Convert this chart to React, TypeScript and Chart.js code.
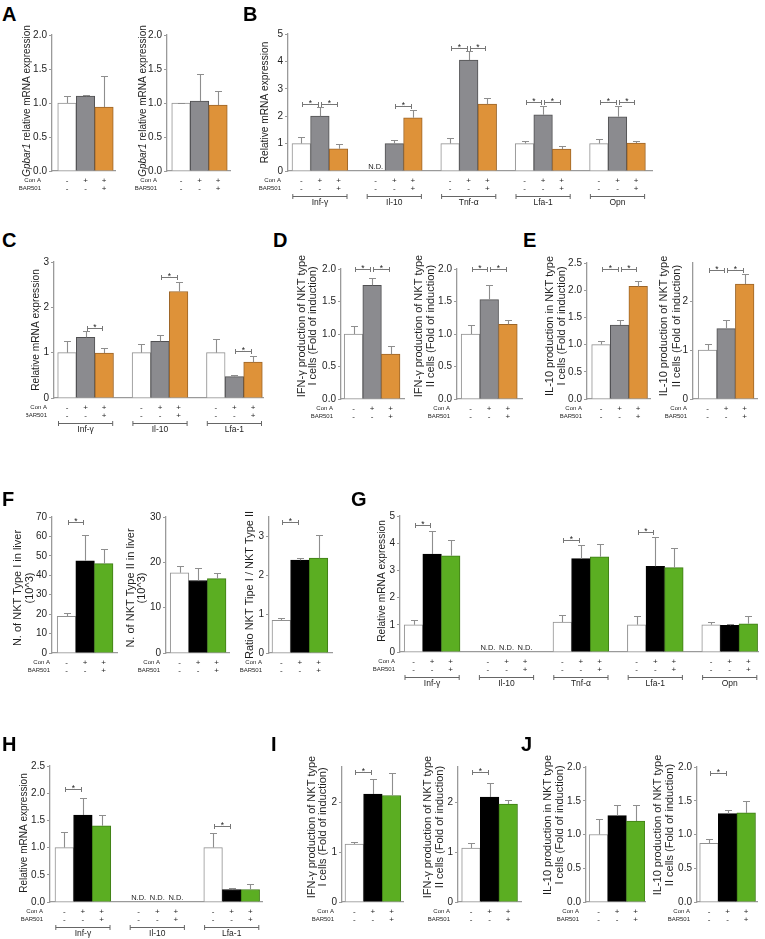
import React, { useEffect, useRef } from "react";
import { Chart, registerables } from "chart.js";

Chart.register(...registerables);

const FONT = "'Liberation Sans', Arial, Helvetica, sans-serif";

// ---------- shared labels ----------
const SIGNS_CON_A = ["-", "+", "+"];
const SIGNS_BAR501 = ["-", "-", "+"];
const ROW_LABELS = ["Con A", "BAR501"];

// ---------- Panel A ----------
const aLeftMeans = [1.0, 1.1, 0.94];
const aLeftSem = [0.1, 0.02, 0.45];
const aRightMeans = [1.0, 1.03, 0.97];
const aRightSem = [0.005, 0.39, 0.21];

// ---------- Panel B ----------
const bGenes = ["Inf-γ", "Il-10", "Tnf-α", "Lfa-1", "Opn"];
const bControl = [1.0, null, 1.0, 1.0, 1.0];
const bConA = [2.0, 1.0, 4.05, 2.05, 1.98];
const bConABar = [0.81, 1.94, 2.44, 0.8, 1.02];
const bControlSem = [0.24, null, 0.2, 0.1, 0.16];
const bConASem = [0.33, 0.13, 0.32, 0.33, 0.4];
const bConABarSem = [0.17, 0.28, 0.22, 0.13, 0.08];
const bStars = [
  { g: 0, a: 0, b: 1, y: 2.44 }, { g: 0, a: 1, b: 2, y: 2.44 },
  { g: 1, a: 1, b: 2, y: 2.37 },
  { g: 2, a: 0, b: 1, y: 4.49 }, { g: 2, a: 1, b: 2, y: 4.49 },
  { g: 3, a: 0, b: 1, y: 2.51 }, { g: 3, a: 1, b: 2, y: 2.51 },
  { g: 4, a: 0, b: 1, y: 2.51 }, { g: 4, a: 1, b: 2, y: 2.51 },
];

// ---------- Panel C ----------
const cGenes = ["Inf-γ", "Il-10", "Lfa-1"];
const cControl = [1.0, 1.0, 1.0];
const cConA = [1.34, 1.25, 0.47];
const cConABar = [0.99, 2.35, 0.79];
const cControlSem = [0.25, 0.2, 0.3];
const cConASem = [0.13, 0.13, 0.04];
const cConABarSem = [0.11, 0.2, 0.13];
const cStars = [
  { g: 0, a: 1, b: 2, y: 1.54 },
  { g: 1, a: 1, b: 2, y: 2.67 },
  { g: 2, a: 1, b: 2, y: 1.04 },
];

// ---------- Panel D ----------
const dTypeIMeans = [1.0, 1.75, 0.69];
const dTypeISem = [0.13, 0.11, 0.13];
const dTypeIIMeans = [1.0, 1.53, 1.15];
const dTypeIISem = [0.14, 0.22, 0.07];
const dStars = [{ g: 0, a: 0, b: 1, y: 2.0 }, { g: 0, a: 1, b: 2, y: 2.0 }];

// ---------- Panel E ----------
const eTypeIMeans = [1.0, 1.36, 2.07];
const eTypeISem = [0.07, 0.1, 0.1];
const eTypeIIMeans = [1.0, 1.44, 2.35];
const eTypeIISem = [0.12, 0.17, 0.21];
const eTypeIStars = [{ g: 0, a: 0, b: 1, y: 2.39 }, { g: 0, a: 1, b: 2, y: 2.39 }];
const eTypeIIStars = [{ g: 0, a: 0, b: 1, y: 2.64 }, { g: 0, a: 1, b: 2, y: 2.64 }];

// ---------- Panel F ----------
const fTypeIMeans = [18.9, 47.5, 46.0];
const fTypeISem = [1.9, 13.2, 7.7];
const fTypeIIMeans = [17.7, 16.0, 16.4];
const fTypeIISem = [1.5, 2.8, 1.3];
const fRatioMeans = [0.84, 2.39, 2.44];
const fRatioSem = [0.07, 0.05, 0.59];
const fTypeIStars = [{ g: 0, a: 0, b: 1, y: 67.4 }];
const fRatioStars = [{ g: 0, a: 0, b: 1, y: 3.36 }];

// ---------- Panel G ----------
const gGenes = ["Inf-γ", "Il-10", "Tnf-α", "Lfa-1", "Opn"];
const gControl = [1.0, null, 1.1, 1.0, 1.0];
const gConA = [3.6, null, 3.43, 3.15, 0.98];
const gConABar = [3.54, null, 3.5, 3.1, 1.04];
const gControlSem = [0.19, null, 0.27, 0.32, 0.12];
const gConASem = [0.86, null, 0.5, 1.09, 0.06];
const gConABarSem = [0.59, null, 0.48, 0.71, 0.27];
const gStars = [
  { g: 0, a: 0, b: 1, y: 4.66 },
  { g: 2, a: 0, b: 1, y: 4.1 },
  { g: 3, a: 0, b: 1, y: 4.4 },
];

// ---------- Panel H ----------
const hGenes = ["Inf-γ", "Il-10", "Lfa-1"];
const hControl = [1.0, null, 1.0];
const hConA = [1.6, null, 0.23];
const hConABar = [1.4, null, 0.23];
const hControlSem = [0.28, null, 0.26];
const hConASem = [0.32, null, 0.03];
const hConABarSem = [0.2, null, 0.1];
const hStars = [{ g: 0, a: 0, b: 1, y: 2.07 }, { g: 2, a: 0, b: 1, y: 1.39 }];

// ---------- Panel I ----------
const iTypeIMeans = [1.16, 2.16, 2.13];
const iTypeISem = [0.04, 0.3, 0.45];
const iTypeIIMeans = [1.08, 2.1, 1.96];
const iTypeIISem = [0.1, 0.28, 0.09];
const iStars = [{ g: 0, a: 0, b: 1, y: 2.61 }];

// ---------- Panel J ----------
const jTypeIMeans = [1.0, 1.28, 1.2];
const jTypeISem = [0.23, 0.15, 0.24];
const jTypeIIMeans = [0.87, 1.31, 1.32];
const jTypeIISem = [0.07, 0.05, 0.17];
const jTypeIIStars = [{ g: 0, a: 0, b: 1, y: 1.91 }];

// ---------- styles ----------
const PALETTES: Record<string, { fill: string[]; line: string[] }> = {
  orange: { fill: ["#ffffff", "#8b8b8f", "#de9239"], line: ["#909090", "#505052", "#9c6528"] },
  green: { fill: ["#ffffff", "#000000", "#5bae22"], line: ["#909090", "#000000", "#3f7d16"] },
};
const AXIS = "#9a9a9a";
const ERR = "#8e8e8e";
const TEXT = "#1e1e1e";

type Bracket = { g: number; a: number; b: number; y: number };
type Part = { t: string; it?: boolean };
type TitleLine = { x: number; parts: Part[] };
type Spec = {
  key: string;
  series: (number | null)[][];
  sems: (number | null)[][];
  groups: string[] | null;
  palette: string;
  yMax: number;
  yStep: number;
  dec: number;
  bounds: boolean;
  stars: Bracket[];
  titles: TitleLine[];
  titleSize: number;
  titleCy?: number;
  ax: number;
  ax1: number;
  yt: number;
  yb: number;
  c0: number;
  slot: number;
  labelRight: number;
};

const single = (v: number[]) => v.map((x) => [x]);
const tl = (x: number, t: string): TitleLine => ({ x, parts: [{ t }] });

const SPECS: Spec[] = [
  {
    key: "A1", series: single(aLeftMeans), sems: single(aLeftSem), groups: null, palette: "orange",
    yMax: 2, yStep: 0.5, dec: 1, bounds: true, stars: [], titleSize: 10,
    titles: [{ x: 27, parts: [{ t: "Gpbar1", it: true }, { t: " relative mRNA expression" }] }], titleCy: 101,
    ax: 52, ax1: 115, yt: 35, yb: 171, c0: 67, slot: 18.5, labelRight: 41,
  },
  {
    key: "A2", series: single(aRightMeans), sems: single(aRightSem), groups: null, palette: "orange",
    yMax: 2, yStep: 0.5, dec: 1, bounds: true, stars: [], titleSize: 10,
    titles: [{ x: 143, parts: [{ t: "Gpbar1", it: true }, { t: " relative mRNA expression" }] }], titleCy: 101,
    ax: 167, ax1: 230, yt: 35, yb: 171, c0: 181, slot: 18.5, labelRight: 157,
  },
  {
    key: "B", series: [bControl, bConA, bConABar], sems: [bControlSem, bConASem, bConABarSem], groups: bGenes,
    palette: "orange", yMax: 5, yStep: 1, dec: 0, bounds: true, stars: bStars, titleSize: 10.2,
    titles: [tl(265, "Relative mRNA expression")],
    ax: 288, ax1: 652, yt: 34, yb: 171, c0: 301.3, slot: 18.6, labelRight: 281,
  },
  {
    key: "C", series: [cControl, cConA, cConABar], sems: [cControlSem, cConASem, cConABarSem], groups: cGenes,
    palette: "orange", yMax: 3, yStep: 1, dec: 0, bounds: true, stars: cStars, titleSize: 10.2,
    titles: [tl(36, "Relative mRNA expression")],
    ax: 54, ax1: 263, yt: 262, yb: 398, c0: 67, slot: 18.6, labelRight: 47,
  },
  {
    key: "D1", series: single(dTypeIMeans), sems: single(dTypeISem), groups: null, palette: "orange",
    yMax: 2, yStep: 0.5, dec: 1, bounds: true, stars: dStars, titleSize: 11,
    titles: [tl(302, "IFN-γ production of NKT type"), tl(313, "I cells (Fold of induction)")], titleCy: 326,
    ax: 341, ax1: 404, yt: 269, yb: 399, c0: 353.5, slot: 18.6, labelRight: 333,
  },
  {
    key: "D2", series: single(dTypeIIMeans), sems: single(dTypeIISem), groups: null, palette: "orange",
    yMax: 2, yStep: 0.5, dec: 1, bounds: true, stars: dStars, titleSize: 11,
    titles: [tl(419, "IFN-γ production of NKT type"), tl(431, "II cells (Fold of induction)")], titleCy: 326,
    ax: 457, ax1: 522, yt: 269, yb: 399, c0: 470.5, slot: 18.7, labelRight: 450,
  },
  {
    key: "E1", series: single(eTypeIMeans), sems: single(eTypeISem), groups: null, palette: "orange",
    yMax: 2.5, yStep: 0.5, dec: 1, bounds: true, stars: eTypeIStars, titleSize: 11,
    titles: [tl(550, "IL-10 production in NKT type"), tl(562, "I cells (Fold of induction)")], titleCy: 326,
    ax: 587, ax1: 650, yt: 263, yb: 399, c0: 601, slot: 18.6, labelRight: 582,
  },
  {
    key: "E2", series: single(eTypeIIMeans), sems: single(eTypeIISem), groups: null, palette: "orange",
    yMax: 2.78, yStep: 1, dec: 0, bounds: false, stars: eTypeIIStars, titleSize: 11,
    titles: [tl(664, "IL-10 production of NKT type"), tl(677, "II cells (Fold of induction)")], titleCy: 326,
    ax: 693, ax1: 757, yt: 263, yb: 399, c0: 707.5, slot: 18.6, labelRight: 687,
  },
  {
    key: "F1", series: single(fTypeIMeans), sems: single(fTypeISem), groups: null, palette: "green",
    yMax: 70, yStep: 10, dec: 0, bounds: true, stars: fTypeIStars, titleSize: 11,
    titles: [tl(18, "N. of NKT Type I in liver"), tl(30, "(10^3)")], titleCy: 588,
    ax: 52, ax1: 117, yt: 517, yb: 653, c0: 66.5, slot: 18.6, labelRight: 50,
  },
  {
    key: "F2", series: single(fTypeIIMeans), sems: single(fTypeIISem), groups: null, palette: "green",
    yMax: 30, yStep: 10, dec: 0, bounds: true, stars: [], titleSize: 11,
    titles: [tl(131, "N. of NKT Type II in liver"), tl(142, "(10^3)")], titleCy: 588,
    ax: 166, ax1: 229, yt: 517, yb: 653, c0: 179.5, slot: 18.6, labelRight: 160,
  },
  {
    key: "F3", series: single(fRatioMeans), sems: single(fRatioSem), groups: null, palette: "green",
    yMax: 3.5, yStep: 1, dec: 0, bounds: false, stars: fRatioStars, titleSize: 11,
    titles: [tl(250, "Ratio NKT Tipe I / NKT Type II")], titleCy: 585,
    ax: 269, ax1: 332, yt: 517, yb: 653, c0: 281.3, slot: 18.6, labelRight: 262,
  },
  {
    key: "G", series: [gControl, gConA, gConABar], sems: [gControlSem, gConASem, gConABarSem], groups: gGenes,
    palette: "green", yMax: 5, yStep: 1, dec: 0, bounds: true, stars: gStars, titleSize: 10.2,
    titles: [tl(382, "Relative mRNA expression")], titleCy: 581,
    ax: 400, ax1: 758, yt: 516, yb: 652, c0: 413.5, slot: 18.6, labelRight: 395,
  },
  {
    key: "H", series: [hControl, hConA, hConABar], sems: [hControlSem, hConASem, hConABarSem], groups: hGenes,
    palette: "green", yMax: 2.5, yStep: 0.5, dec: 1, bounds: true, stars: hStars, titleSize: 10,
    titles: [tl(24, "Relative mRNA expression")], titleCy: 833,
    ax: 50, ax1: 262, yt: 766, yb: 902, c0: 64.3, slot: 18.6, labelRight: 43,
  },
  {
    key: "I1", series: single(iTypeIMeans), sems: single(iTypeISem), groups: null, palette: "green",
    yMax: 2.7, yStep: 1, dec: 0, bounds: false, stars: iStars, titleSize: 11,
    titles: [tl(312, "IFN-γ production of NKT type"), tl(323, "I cells (Fold of induction)")], titleCy: 827,
    ax: 342, ax1: 403, yt: 767, yb: 902, c0: 354.3, slot: 18.6, labelRight: 334,
  },
  {
    key: "I2", series: single(iTypeIIMeans), sems: single(iTypeIISem), groups: null, palette: "green",
    yMax: 2.7, yStep: 1, dec: 0, bounds: false, stars: iStars, titleSize: 11,
    titles: [tl(428, "IFN-γ production of NKT type"), tl(440, "II cells (Fold of induction)")], titleCy: 827,
    ax: 458, ax1: 521, yt: 767, yb: 902, c0: 471, slot: 18.6, labelRight: 450,
  },
  {
    key: "J1", series: single(jTypeIMeans), sems: single(jTypeISem), groups: null, palette: "green",
    yMax: 2, yStep: 0.5, dec: 1, bounds: true, stars: [], titleSize: 11,
    titles: [tl(548, "IL-10 production in NKT type"), tl(560, "I cells (Fold of induction)")], titleCy: 825,
    ax: 586, ax1: 645, yt: 767, yb: 902, c0: 598.5, slot: 18.6, labelRight: 579,
  },
  {
    key: "J2", series: single(jTypeIIMeans), sems: single(jTypeIISem), groups: null, palette: "green",
    yMax: 2, yStep: 0.5, dec: 1, bounds: true, stars: jTypeIIStars, titleSize: 11,
    titles: [tl(658, "IL-10 production of NKT type"), tl(670, "II cells (Fold of induction)")], titleCy: 825,
    ax: 697, ax1: 757, yt: 767, yb: 902, c0: 709, slot: 18.6, labelRight: 690,
  },
];

const LETTERS = [
  { t: "A", x: 3, y: 7 }, { t: "B", x: 244, y: 7 },
  { t: "C", x: 3, y: 233 }, { t: "D", x: 274, y: 233 }, { t: "E", x: 524, y: 233 },
  { t: "F", x: 3, y: 492 }, { t: "G", x: 352, y: 492 },
  { t: "H", x: 3, y: 737 }, { t: "I", x: 272, y: 737 }, { t: "J", x: 522, y: 737 },
];

function boxOf(spec: Spec) {
  const left = Math.floor(Math.min(...spec.titles.map((t) => t.x)) - 10);
  const top = Math.floor(spec.yt - 16);
  const right = Math.ceil(spec.ax1 + 4);
  const bottom = Math.ceil(spec.yb + 40);
  return { left, top, width: right - left, height: bottom - top, right, bottom };
}

function makeDecor(spec: Spec, left: number, top: number) {
  return {
    id: "decor" + spec.key,
    afterDatasetsDraw(chart: any) {
      const ctx: CanvasRenderingContext2D = chart.ctx;
      const xs = chart.scales.x;
      const ys = chart.scales.y;
      const nG = spec.series[0].length;
      const cx = (g: number, k: number) => xs.getPixelForValue(g * 4 + k);
      const y0 = ys.getPixelForValue(0);
      ctx.save();

      // error bars
      ctx.strokeStyle = ERR;
      ctx.lineWidth = 1.1;
      spec.series.forEach((ser, k) =>
        ser.forEach((v, g) => {
          const s = spec.sems[k][g];
          if (v == null || s == null) return;
          const x = Math.round(cx(g, k)) + 0.5;
          const ya = ys.getPixelForValue(v);
          const yTop = Math.round(ys.getPixelForValue(v + s)) + 0.5;
          ctx.beginPath();
          ctx.moveTo(x, ya);
          ctx.lineTo(x, yTop);
          ctx.moveTo(x - 3.5, yTop);
          ctx.lineTo(x + 3.5, yTop);
          ctx.stroke();
        })
      );

      // N.D.
      ctx.fillStyle = TEXT;
      ctx.font = `7.5px ${FONT}`;
      ctx.textAlign = "center";
      ctx.textBaseline = "alphabetic";
      spec.series.forEach((ser, k) =>
        ser.forEach((v, g) => {
          if (v == null) ctx.fillText("N.D.", cx(g, k), y0 - 2);
        })
      );

      // significance brackets
      ctx.strokeStyle = "#777";
      ctx.lineWidth = 1;
      spec.stars.forEach((b) => {
        const xa = Math.round(cx(b.g, b.a)) + 1.5;
        const xb = Math.round(cx(b.g, b.b)) - 1.5;
        const y = Math.round(ys.getPixelForValue(b.y)) + 0.5;
        ctx.beginPath();
        ctx.moveTo(xa, y);
        ctx.lineTo(xb, y);
        ctx.moveTo(xa, y - 2.5);
        ctx.lineTo(xa, y + 2.5);
        ctx.moveTo(xb, y - 2.5);
        ctx.lineTo(xb, y + 2.5);
        ctx.stroke();
        ctx.font = `8.5px ${FONT}`;
        ctx.fillStyle = TEXT;
        ctx.textAlign = "center";
        ctx.textBaseline = "alphabetic";
        ctx.fillText("*", (xa + xb) / 2, y + 1.5);
      });

      // Con A / BAR501 rows
      const r1 = y0 + 9.5;
      const r2 = y0 + 17.5;
      ctx.fillStyle = TEXT;
      ctx.textBaseline = "middle";
      ctx.textAlign = "right";
      ctx.font = `6px ${FONT}`;
      ctx.fillText(ROW_LABELS[0], spec.labelRight - left, r1);
      ctx.fillText(ROW_LABELS[1], spec.labelRight - left, r2);
      ctx.textAlign = "center";
      ctx.font = `8px ${FONT}`;
      for (let g = 0; g < nG; g++) {
        for (let k = 0; k < 3; k++) {
          const x = cx(g, k);
          ctx.fillText(SIGNS_CON_A[k], x, r1);
          ctx.fillText(SIGNS_BAR501[k], x, r2);
        }
      }

      // gene group brackets
      if (spec.groups) {
        const yb = Math.round(y0 + 25) + 0.5;
        ctx.strokeStyle = "#666";
        ctx.lineWidth = 1;
        spec.groups.forEach((name, g) => {
          const xa = cx(g, 0) - 8.5;
          const xb = cx(g, 2) + 8.5;
          ctx.beginPath();
          ctx.moveTo(xa, yb);
          ctx.lineTo(xb, yb);
          ctx.moveTo(xa, yb - 2.5);
          ctx.lineTo(xa, yb + 2.5);
          ctx.moveTo(xb, yb - 2.5);
          ctx.lineTo(xb, yb + 2.5);
          ctx.stroke();
          ctx.font = `8.5px ${FONT}`;
          ctx.fillStyle = TEXT;
          ctx.textAlign = "center";
          ctx.textBaseline = "middle";
          ctx.fillText(name, (xa + xb) / 2, y0 + 31.5);
        });
      }

      // y-axis titles (rotated)
      const cy = (spec.titleCy ?? (spec.yt + spec.yb) / 2) - top;
      spec.titles.forEach((line) => {
        ctx.save();
        ctx.translate(line.x - left, cy);
        ctx.rotate(-Math.PI / 2);
        ctx.textBaseline = "middle";
        ctx.textAlign = "left";
        ctx.fillStyle = TEXT;
        const fontOf = (p: Part) => `${p.it ? "italic " : ""}${spec.titleSize}px ${FONT}`;
        let total = 0;
        line.parts.forEach((p) => {
          ctx.font = fontOf(p);
          total += ctx.measureText(p.t).width;
        });
        let pos = -total / 2;
        line.parts.forEach((p) => {
          ctx.font = fontOf(p);
          ctx.fillText(p.t, pos, 0);
          pos += ctx.measureText(p.t).width;
        });
        ctx.restore();
      });

      ctx.restore();
    },
  };
}

function Panel({ spec }: { spec: Spec }) {
  const ref = useRef<HTMLCanvasElement | null>(null);
  const box = boxOf(spec);
  useEffect(() => {
    const canvas = ref.current;
    if (!canvas) return;
    const pal = PALETTES[spec.palette];
    const points: { x: number; y: number }[] = [];
    const bg: string[] = [];
    const bd: string[] = [];
    const nG = spec.series[0].length;
    for (let g = 0; g < nG; g++) {
      for (let k = 0; k < 3; k++) {
        const v = spec.series[k][g];
        if (v == null) continue;
        points.push({ x: g * 4 + k, y: v });
        bg.push(pal.fill[k]);
        bd.push(pal.line[k]);
      }
    }
    const xmin = (spec.ax - spec.c0) / spec.slot;
    const xmax = (spec.ax1 - spec.c0) / spec.slot;
    const yWidth = spec.ax - box.left;
    const chart = new Chart(canvas, {
      type: "bar",
      data: {
        datasets: [
          {
            data: points as any,
            backgroundColor: bg,
            borderColor: bd,
            borderWidth: 1,
            categoryPercentage: 1,
            barPercentage: 1,
          },
        ],
      },
      options: {
        animation: false,
        responsive: false,
        devicePixelRatio: 1,
        events: [],
        layout: {
          padding: { left: 0, top: spec.yt - box.top, right: box.right - spec.ax1, bottom: box.bottom - spec.yb },
        },
        plugins: { legend: { display: false }, tooltip: { enabled: false } },
        scales: {
          x: {
            type: "linear",
            min: xmin,
            max: xmax,
            offset: false,
            ticks: { display: false, stepSize: 1, includeBounds: false },
            grid: { display: false },
            border: { display: true, color: AXIS, width: 1.3 },
            afterFit: (s: any) => {
              s.height = 0;
            },
          },
          y: {
            type: "linear",
            min: 0,
            max: spec.yMax,
            ticks: {
              stepSize: spec.yStep,
              includeBounds: spec.bounds,
              color: TEXT,
              padding: 2,
              font: { family: FONT, size: 10 },
              callback: (v: any) => Number(v).toFixed(spec.dec),
            },
            grid: { display: true, drawOnChartArea: false, drawTicks: true, tickLength: 3, color: AXIS, lineWidth: 1 },
            border: { display: true, color: AXIS, width: 1.3 },
            afterFit: (s: any) => {
              s.width = yWidth;
            },
          },
        },
      } as any,
      plugins: [makeDecor(spec, box.left, box.top)],
    });
    return () => chart.destroy();
  }, []);
  return (
    <canvas
      ref={ref}
      width={box.width}
      height={box.height}
      style={{ position: "absolute", left: box.left, top: box.top, width: box.width, height: box.height }}
    />
  );
}

export default function App() {
  return (
    <div
      style={{
        position: "absolute",
        left: 0,
        top: 0,
        width: 765,
        height: 939,
        background: "#ffffff",
        overflow: "hidden",
        fontFamily: FONT,
      }}
    >
      {SPECS.map((s) => (
        <Panel key={s.key} spec={s} />
      ))}
      {LETTERS.map((l) => (
        <div
          key={l.t}
          style={{
            position: "absolute",
            left: l.x - 1,
            top: l.y - 3,
            fontSize: 20,
            lineHeight: "20px",
            fontWeight: "bold",
            color: "#000",
          }}
        >
          {l.t}
        </div>
      ))}
    </div>
  );
}
